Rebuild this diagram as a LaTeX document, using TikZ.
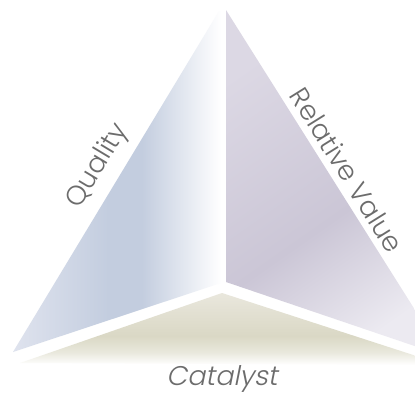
\documentclass[tikz,border=0pt]{standalone}
\usepackage{fontspec}
\setmainfont{Poppins Light}
\newfontfamily\catfont[FakeSlant=0.2]{Poppins Light}
\usepackage{tikz}
\definecolor{qualityL}{HTML}{DFE3EE}
\definecolor{qualityD}{HTML}{C3CDDF}
\definecolor{valueL}{HTML}{DCD8E4}
\definecolor{valueD}{HTML}{CBC6D6}
\definecolor{valueW}{HTML}{ECEAF1}
\definecolor{catalystL}{HTML}{E9E7DD}
\definecolor{catalystD}{HTML}{DAD8C5}
\definecolor{labelgray}{HTML}{6C6C6C}
\pgfdeclarehorizontalshading{qualityfade}{100bp}{color(0bp)=(qualityL); color(25bp)=(qualityL); color(48bp)=(qualityD); color(56bp)=(qualityD); color(75bp)=(white); color(100bp)=(white)}
\pgfdeclareverticalshading{valuefade}{100bp}{color(0bp)=(valueW); color(25bp)=(valueW); color(45bp)=(valueD); color(75bp)=(valueL); color(100bp)=(valueL)}
\pgfdeclareverticalshading{catalystfade}{100bp}{color(0bp)=(white); color(25bp)=(white); color(34bp)=(catalystD!60!white); color(45bp)=(catalystD); color(75bp)=(catalystL); color(100bp)=(catalystL)}

\begin{document}
\begin{tikzpicture}[x=1pt, y=-1pt]
			%%%%% START %%%%%
			\useasboundingbox[fill=white] (0, 0) rectangle (415, 394);
			
			\shade[shading=qualityfade] (13, 352) -- (219, 11) -- (221, 11) -- (221, 283) -- cycle;
			
			\shade[shading=valuefade, shading angle=35] (226, 10) -- (226, 282) -- (444, 356) -- cycle;
			
			\shade[shading=catalystfade] (20, 363) -- (222, 293) -- (444, 365) -- cycle;
			
			\node[color=labelgray, font=\fontsize{27}{29}\selectfont, rotate=59] (quality) at (98, 166) {Quality};
			\node[color=labelgray, font=\fontsize{27}{29}\selectfont, rotate=-58] (value) at (347, 170) {Relative Value};
			\node[color=labelgray, font=\catfont\fontsize{27}{29}\selectfont] (catalyst) at (222, 379) {Catalyst};
			
			%%%%% END %%%%%
\end{tikzpicture}
\end{document}
